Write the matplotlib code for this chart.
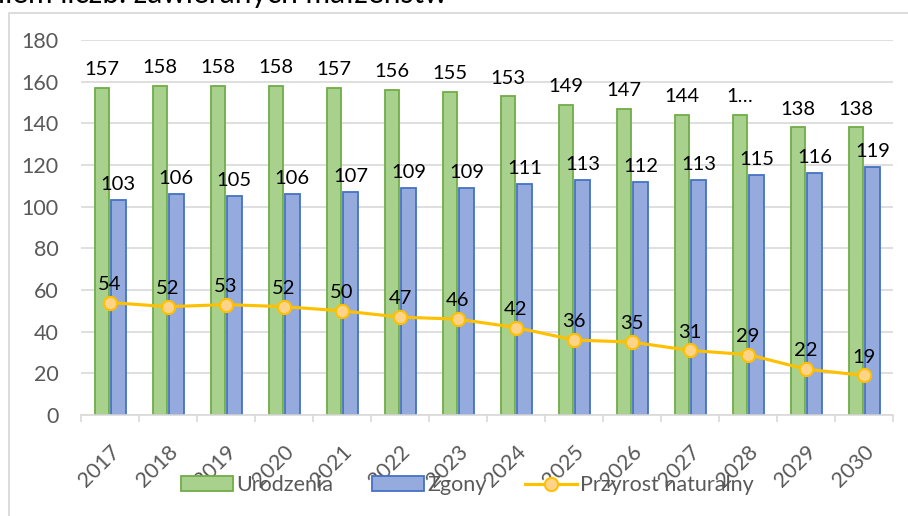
import matplotlib
matplotlib.use('Agg')
import matplotlib.pyplot as plt
import numpy as np
from matplotlib.lines import Line2D
from matplotlib.patches import Patch

plt.rcParams['font.family'] = ['Lato', 'DejaVu Sans']

# dane
lata = ['2017', '2018', '2019', '2020', '2021', '2022', '2023',
        '2024', '2025', '2026', '2027', '2028', '2029', '2030']
urodzenia = [157, 158, 158, 158, 157, 156, 155, 153, 149, 147, 144, 144, 138, 138]
zgony = [103, 106, 105, 106, 107, 109, 109, 111, 113, 112, 113, 115, 116, 119]
przyrost = [54, 52, 53, 52, 50, 47, 46, 42, 36, 35, 31, 29, 22, 19]
# etykieta 2028 jest w oryginale obcięta
etykiety_urodzenia = ['157', '158', '158', '158', '157', '156', '155',
                      '153', '149', '147', '144', '1…', '138', '138']
tytul = 'ilem liczb. zawieranych małżeństw'

GREEN_FILL, GREEN_EDGE = '#A9D18E', '#70AD47'
BLUE_FILL, BLUE_EDGE = '#95ABDE', '#4472C4'
ORANGE, ORANGE_FILL = '#FFC000', '#FFD38A'
GRID = '#D9D9D9'
GREY_TXT = '#595959'

fig = plt.figure(figsize=(9.08, 5.16), dpi=100)
ax = fig.add_axes([0.0892, 0.1957, 0.8943, 0.7268])

x = np.arange(len(lata))
w = 0.25
b1 = ax.bar(x - 0.14, urodzenia, w, color=GREEN_FILL, edgecolor=GREEN_EDGE,
            linewidth=1.3, zorder=2)
b2 = ax.bar(x + 0.145, zgony, w, color=BLUE_FILL, edgecolor=BLUE_EDGE,
            linewidth=1.3, zorder=2)
ax.bar_label(b1, labels=etykiety_urodzenia, padding=7, fontsize=14.5, color='black')
ax.bar_label(b2, labels=[str(v) for v in zgony], padding=5, fontsize=14.5, color='black')

ax.plot(x, przyrost, color=ORANGE, lw=2.25, marker='o', ms=9.5,
        mfc=ORANGE_FILL, mec=ORANGE, mew=1.5, zorder=4)
for xi, v in zip(x, przyrost):
    ax.annotate(str(v), (xi, v), xytext=(0, 7), textcoords='offset points',
                ha='center', va='bottom', fontsize=14.5, color='black', zorder=5)

ax.set_xlim(-0.5, len(lata) - 0.5)
ax.set_ylim(0, 180)
ax.set_yticks(np.arange(0, 181, 20))
ax.yaxis.grid(True, color=GRID, lw=1.2, zorder=0)
ax.set_axisbelow(True)
for s in ['top', 'right', 'left']:
    ax.spines[s].set_visible(False)
ax.spines['bottom'].set_color(GRID)
ax.spines['bottom'].set_linewidth(1.2)
ax.tick_params(axis='y', length=0, pad=16, labelsize=15.5, labelcolor=GREY_TXT)

ax.set_xticks(x)
ax.set_xticks(np.arange(-0.5, len(lata), 1), minor=True)
ax.set_xticklabels(lata, rotation=45, ha='right', rotation_mode='anchor',
                   fontsize=15.5, color=GREY_TXT)
ax.tick_params(axis='x', which='major', length=0, pad=19)
ax.tick_params(axis='x', which='minor', length=5, color=GRID, width=1.2)

handles = [Patch(facecolor=GREEN_FILL, edgecolor=GREEN_EDGE, linewidth=1.3),
           Patch(facecolor=BLUE_FILL, edgecolor=BLUE_EDGE, linewidth=1.3),
           Line2D([], [], color=ORANGE, lw=2.25, marker='o', ms=9.5,
                  mfc=ORANGE_FILL, mec=ORANGE, mew=1.5)]
leg = fig.legend(handles, ['Urodzenia', 'Zgony', 'Przyrost naturalny'],
                 loc='center', bbox_to_anchor=(0.515, 0.06), ncol=3,
                 frameon=False, fontsize=15.5, handlelength=2.4,
                 handletextpad=0.15, columnspacing=1.8, numpoints=1)
for t in leg.get_texts():
    t.set_color(GREY_TXT)

# ramka wykresu (obcięta z prawej i z dołu)
fig.add_artist(Line2D([9 / 908, 9 / 908, 1.0], [0.0, 1 - 12.5 / 516, 1 - 12.5 / 516],
                      transform=fig.transFigure, color=GRID, lw=1.3))
# tytuł obcięty u góry
fig.text(-0.002, 1 - 3 / 516, tytul, fontsize=21.5, color='black',
         ha='left', va='baseline')

fig.savefig('out.png', dpi=100)
